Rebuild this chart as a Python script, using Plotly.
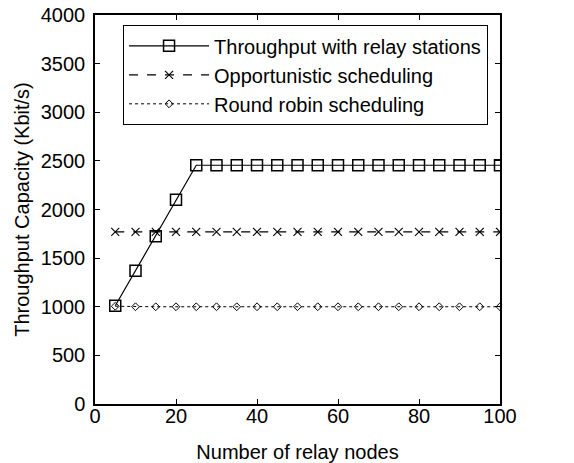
import plotly.graph_objects as go

relay_nodes = [5, 10, 15, 20, 25, 30, 35, 40, 45, 50, 55, 60, 65, 70, 75, 80, 85, 90, 95, 100]
throughput_relay = [1010, 1370, 1725, 2100, 2455, 2455, 2455, 2455, 2455, 2455,
                    2455, 2455, 2455, 2455, 2455, 2455, 2455, 2455, 2455, 2455]
opportunistic = [1770] * 20
round_robin = [1005, 1000, 1000, 1000, 1000, 1000, 1000, 1000, 1000, 1000,
               1000, 1000, 1000, 1000, 1000, 1000, 1000, 1000, 1000, 1000]

names = ["Throughput with relay stations", "Opportunistic scheduling", "Round robin scheduling"]
FONT = "Arial, Liberation Sans, sans-serif"
FS = 20

fig = go.Figure()
fig.add_trace(go.Scatter(x=relay_nodes, y=throughput_relay, name=names[0], mode="lines+markers",
                         line=dict(color="black", width=1.2),
                         marker=dict(symbol="square-open", size=11, color="black", line=dict(width=1.5))))
fig.add_trace(go.Scatter(x=relay_nodes, y=opportunistic, name=names[1], mode="lines+markers",
                         line=dict(color="black", width=1.2, dash="dash"),
                         marker=dict(symbol="x-thin-open", size=8, color="black", line=dict(width=1.1, color="black"))))
fig.add_trace(go.Scatter(x=relay_nodes, y=round_robin, name=names[2], mode="lines+markers",
                         line=dict(color="black", width=1, dash="dot"),
                         marker=dict(symbol="diamond-open", size=6, color="black", line=dict(width=1))))

axis_common = dict(showline=True, linecolor="black", linewidth=1.5, mirror="ticks",
                   ticks="inside", ticklen=5, tickcolor="black", showgrid=False, zeroline=False,
                   automargin=False,
                   tickfont=dict(family=FONT, size=FS, color="black"))

fig.update_layout(
    width=574, height=463,
    margin=dict(l=95, r=74, t=15, b=59),
    paper_bgcolor="white", plot_bgcolor="white",
    font=dict(family=FONT, size=FS, color="black"),
    xaxis=dict(range=[0, 100], tickvals=[0, 20, 40, 60, 80, 100], ticklabelstandoff=-7,
               title=dict(text="Number of relay nodes", standoff=20, font=dict(size=FS)), **axis_common),
    yaxis=dict(range=[0, 4000], tickvals=list(range(0, 4001, 500)), ticklabelstandoff=4,
               title=dict(text="Throughput Capacity (Kbit/s)", standoff=6, font=dict(size=FS)), **axis_common),
    legend=dict(x=0.970, y=0.974, xanchor="right", yanchor="top", bgcolor="white",
                bordercolor="black", borderwidth=1.2, font=dict(family=FONT, size=FS),
                tracegroupgap=0, itemwidth=80),
    showlegend=True,
)

fig.write_html("out.html", config={"displayModeBar": False},
               post_script="document.body.style.margin='0';document.body.style.overflow='hidden';")
